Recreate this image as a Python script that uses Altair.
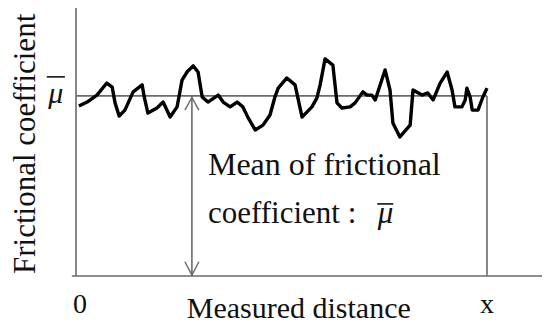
import altair as alt
import pandas as pd

# Friction trace (distance 0..100 = 0..x, friction in arbitrary units)
distance = [0.7, 2.7, 5.1, 7.5, 8.8, 9.5, 10.5, 11.9, 13.9, 16.1, 16.6, 17.5, 19.7, 21.2, 22.9,
            24.6, 25.8, 27.0, 28.5, 29.7, 30.7, 32.1, 34.6, 35.8, 37.5, 39.2, 40.6, 41.9, 43.6,
            45.5, 47.2, 48.4, 49.2, 51.3, 53.3, 55.0, 57.4, 58.6, 59.4, 60.6, 62.5, 63.5, 64.7,
            66.7, 67.9, 69.8, 70.8, 72.0, 72.8, 75.2, 76.4, 77.1, 78.8, 81.3, 82.0, 84.2, 85.6,
            86.9, 88.6, 90.3, 91.5, 92.2, 93.9, 94.7, 95.1, 95.9, 96.4, 97.8, 99.0, 100.0]
friction = [63.4, 64.9, 67.5, 72.0, 70.5, 64.6, 59.7, 61.9, 68.7, 71.3, 66.8, 60.8, 62.7, 64.9, 59.3,
            63.1, 73.1, 76.1, 78.4, 76.1, 66.8, 64.9, 67.5, 64.9, 63.1, 64.9, 63.1, 59.0, 54.5,
            56.3, 60.1, 66.8, 70.1, 73.9, 71.3, 59.3, 63.1, 66.4, 71.3, 81.0, 78.7, 64.6, 62.7,
            63.1, 64.6, 68.7, 67.5, 67.5, 65.7, 76.9, 69.4, 57.1, 51.9, 56.3, 69.4, 67.5, 68.3,
            65.7, 72.0, 76.1, 69.4, 63.1, 63.1, 65.7, 70.1, 66.8, 61.9, 61.9, 66.8, 70.1]

mean_mu = 67.2      # mean frictional coefficient level
x_end = 100         # measured distance x
y_top = 100         # top of the vertical axis
x_axis_end = 118    # right end of the horizontal axis
arrow_at = 28.2     # position of the double arrow

xs = alt.Scale(domain=[0, 100], range=[68, 479], zero=False, nice=False)
ys = alt.Scale(domain=[0, 100], range=[268, 0], zero=False, nice=False)
X = lambda f: alt.X(f, type="quantitative", scale=xs, axis=None)
Y = lambda f: alt.Y(f, type="quantitative", scale=ys, axis=None)

curve = pd.DataFrame({"d": distance, "f": friction})

segments = pd.DataFrame({
    "x": [0, -1, 0, x_end, arrow_at],
    "x2": [0, x_axis_end, x_end, x_end, arrow_at],
    "y": [0, 0, mean_mu, 0, 0],
    "y2": [y_top, 0, mean_mu, mean_mu, mean_mu],
})

heads = pd.DataFrame({
    "g": ["top", "top", "top", "bot", "bot", "bot"],
    "i": [0, 1, 2, 0, 1, 2],
    "x": [arrow_at - 1.7, arrow_at, arrow_at + 1.7, arrow_at - 1.7, arrow_at, arrow_at + 1.7],
    "y": [mean_mu - 5.3, mean_mu - 0.6, mean_mu - 5.3, 5.3, 0.3, 5.3],
})

bars = pd.DataFrame({
    "x": [-7.1, 73.3],
    "x2": [-2.7, 77.2],
    "y": [74.3, 26.9],
})

font = "Liberation Serif"
tcol = "#111111"

rules = alt.Chart(segments).mark_rule(color="#6a6a6a", strokeWidth=1.6).encode(
    x=X("x"), x2="x2", y=Y("y"), y2="y2")

arrows = alt.Chart(heads).mark_line(color="#6a6a6a", strokeWidth=1.4).encode(
    x=X("x"), y=Y("y"), detail="g:N", order="i:Q")

trace = alt.Chart(curve).mark_line(color="black", strokeWidth=3.4, strokeJoin="round").encode(
    x=X("d"), y=Y("f"))

overbars = alt.Chart(bars).mark_rule(color=tcol, strokeWidth=1.6).encode(
    x=X("x"), x2="x2", y=Y("y"))

def label(text, x, y, size, align="left", angle=0, italic=False):
    df = pd.DataFrame({"t": [text], "x": [x], "y": [y]})
    kw = dict(font=font, fontSize=size, color=tcol, align=align, baseline="alphabetic")
    if angle:
        kw["angle"] = angle
    if italic:
        kw["fontStyle"] = "italic"
    return alt.Chart(df).mark_text(**kw).encode(x=X("x"), y=Y("y"), text="t:N")

texts = [
    label("Mean of frictional", 32.1, 37.7, 32),
    label("coefficient :", 32.1, 19.8, 31),
    label("μ", 75.3, 19.8, 31, align="center", italic=True),
    label("μ", -4.9, 64.6, 30, align="center", italic=True),
    label("Measured distance", 54.2, -15.8, 30, align="center"),
    label("0", 1.0, -13.8, 28, align="center"),
    label("x", 100, -13.8, 28, align="center"),
    label("Frictional coefficient", -10.0, 49.3, 31, align="center", angle=270),
]

chart = alt.layer(rules, arrows, trace, overbars, *texts).properties(
    width=534, height=319,
    autosize=alt.AutoSizeParams(type="none"),
    padding=0,
).configure_view(stroke=None)

chart.save("out.html", embed_options={"renderer": "svg", "actions": False})
